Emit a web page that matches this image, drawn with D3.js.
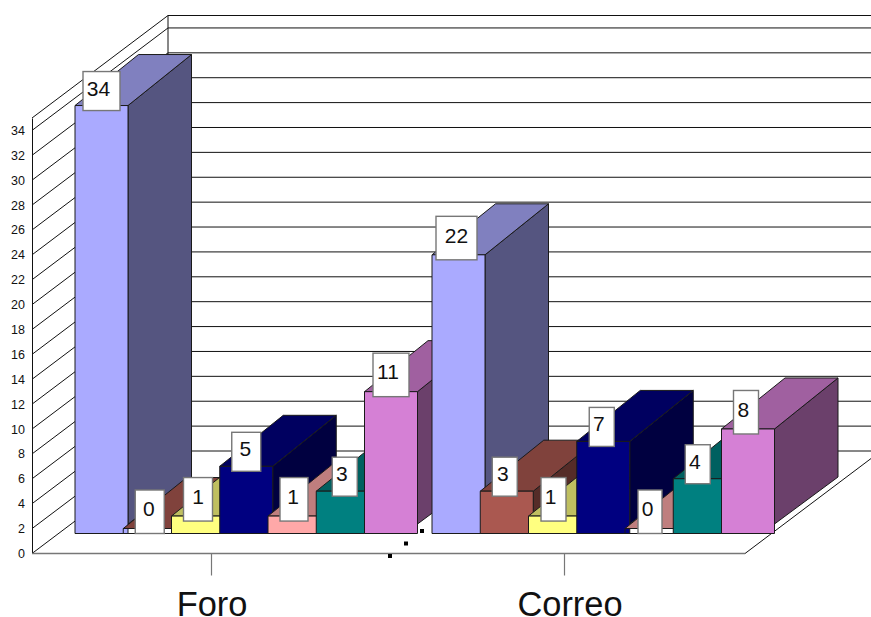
<!DOCTYPE html>
<html>
<head>
<meta charset="utf-8">
<style>
  html, body { margin: 0; padding: 0; background: #fff; }
  svg { display: block; }
  text { font-family: "Liberation Sans", Arial, sans-serif; fill: #111; }
</style>
<script src="https://cdn.jsdelivr.net/npm/d3@7"></script>
</head>
<body>
<svg id="chart" width="871" height="617"></svg>
<script>
// Chart data
const categories = ["Foro", "Correo"];
const seriesNames = ["A", "B", "C", "D", "E", "F", "G"];
const foroValues = [34, 0, 1, 5, 1, 3, 11];
const correoValues = [22, 3, 1, 7, 0, 4, 8];
const seriesColors = ["#AAAAFF", "#AA5850", "#FFFF80", "#000080", "#FFA8A8", "#008080", "#D580D5"];
const yTicks = d3.range(0, 35, 2);

// Box projection constants
const wall = { dx: 136, dy: -102.5 };     // floor front edge to back wall
const depth = { dx: 63.5, dy: -51, foot: -47 };
const barW = 53;
const faceBase = 533.5;                   // where bar fronts meet the floor
const sideBase = 524;                     // where bar sides meet the floor
const floorFrontRight = 745;
const plotRight = 900;

// Value label boxes, per category and series: width, shift of the box, shift of the text
const labelLayout = {
  Foro: {
    width: [37, 29, 29, 29, 28, 25, 36],
    box: [0, 0, 0, 0, -0.5, 2, 0],
    text: [-3, -1, 0, -1, -1, -3, -3]
  },
  Correo: {
    width: [41, 25, 25, 25, 24, 25, 25],
    box: [-2, -2, -1.5, -1.5, -1.5, -2, -2],
    text: [0, -2, -3, -3, -2.4, -3, -2.6]
  }
};
const tallValues = new Set([0, 1, 8, 22, 11]);

const svg = d3.select("#chart");

// Value scales: one along the front edge of the side wall, one for bar tops
const yFront = d3.scaleLinear().domain([0, 35]).range([553.5, 118]);
const yBar = d3.scaleLinear().domain([0, 35]).range([528.5, 528.5 - 35 * 12.44]);

// Horizontal placement
const xTick = d3.scalePoint().domain(categories).range([211, 564]);
const xLabel = d3.scalePoint().domain(categories).range([211.5, 569.5]);
const xGroup = d3.scalePoint().domain(categories).range([75, 432]);
const xSeries = d3.scalePoint().domain(seriesNames).range([0, 289.5]);

const shade = (c, k) => {
  const r = d3.rgb(c);
  return d3.rgb(r.r * k, r.g * k, r.b * k).formatHex();
};
const poly = pts => pts.map(p => p.join(",")).join(" ");

// Walls and floor
const walls = svg.append("g").attr("fill", "none").attr("stroke", "#111").attr("stroke-width", 1);
const backX = 32 + wall.dx;

[...yTicks, 35].forEach(v => {
  const y = yFront(v);
  walls.append("polyline")
    .attr("points", poly([[32, y], [backX, y + wall.dy], [plotRight, y + wall.dy]]));
});
walls.append("line")
  .attr("x1", backX).attr("x2", backX)
  .attr("y1", yFront(35) + wall.dy).attr("y2", yFront(0) + wall.dy);
walls.append("line")
  .attr("x1", floorFrontRight).attr("y1", yFront(0))
  .attr("x2", floorFrontRight + wall.dx * 1.02).attr("y2", yFront(0) + wall.dy * 1.02);

// Value axis
const yAxis = svg.append("g")
  .attr("transform", "translate(32,0)")
  .call(d3.axisLeft(yFront).tickValues(yTicks).tickSize(0).tickPadding(7));
yAxis.select(".domain").attr("stroke", "#111");
yAxis.selectAll("text").attr("font-size", 12.5)
  .style("font-family", '"Liberation Sans", Arial, sans-serif').attr("fill", "#222");

// Category axis
const xAxis = svg.append("g")
  .attr("transform", `translate(0,${yFront(0)})`)
  .call(d3.axisBottom(xTick).tickSize(22).tickPadding(16));
xAxis.select(".domain").remove();
xAxis.selectAll("line").attr("stroke", "#777").attr("stroke-width", 1.2);
xAxis.selectAll("text").attr("font-size", 34.4).attr("fill", "#111")
  .attr("dx", d => xLabel(d) - xTick(d))
  .style("font-family", '"Liberation Sans", Arial, sans-serif');
svg.append("line")
  .attr("x1", 32).attr("x2", floorFrontRight)
  .attr("y1", yFront(0)).attr("y2", yFront(0))
  .attr("stroke", "#777").attr("stroke-width", 1.5);

// Small square handles on the floor
[0, 1, 2].forEach(i => {
  svg.append("rect")
    .attr("x", 388 + i * 16).attr("y", 554 - i * 12.5)
    .attr("width", 4).attr("height", 4).attr("fill", "#000");
});

// Bars, painted left to right so later ones overlap earlier ones
const rows = categories.flatMap((c, gi) => {
  const vals = gi === 0 ? foroValues : correoValues;
  return vals.map((v, i) => ({
    cat: c, index: i, value: v, color: seriesColors[i],
    x: xGroup(c) + xSeries(seriesNames[i]),
    top: yBar(v)
  }));
});

const bars = svg.append("g").attr("stroke", "#1a1a1a").attr("stroke-width", 1)
  .attr("stroke-linejoin", "round");

rows.forEach(d => {
  const x1 = d.x + barW;
  const g = bars.append("g");
  g.append("polygon").attr("fill", shade(d.color, 0.5)).attr("points", poly([
    [x1, d.top], [x1 + depth.dx, d.top + depth.dy],
    [x1 + depth.dx, sideBase + depth.foot], [x1, sideBase]
  ]));
  g.append("polygon").attr("fill", shade(d.color, 0.75)).attr("points", poly([
    [d.x, d.top], [x1, d.top],
    [x1 + depth.dx, d.top + depth.dy], [d.x + depth.dx, d.top + depth.dy]
  ]));
  // A zero-height bar keeps only the outline of its front
  g.append("rect")
    .attr("x", d.x).attr("y", d.top)
    .attr("width", barW).attr("height", faceBase - d.top)
    .attr("fill", d.value === 0 ? "none" : d.color);
});

// Value labels sit on the top front edge of each bar
const labels = svg.append("g");
rows.forEach(d => {
  const layout = labelLayout[d.cat];
  const w = layout.width[d.index];
  const h = tallValues.has(d.value) ? 43.5 : 39;
  const cx = d.x + barW / 2 + layout.box[d.index];
  const bottom = d.top + 5;
  labels.append("rect")
    .attr("x", cx - w / 2).attr("y", bottom - h)
    .attr("width", w).attr("height", h)
    .attr("fill", "#fff").attr("stroke", "#777").attr("stroke-width", 1.4);
  labels.append("text")
    .attr("x", cx + layout.text[d.index]).attr("y", bottom - h / 2 + 4.5)
    .attr("text-anchor", "middle").attr("font-size", 21)
    .text(String(d.value));
});
</script>
</body>
</html>
